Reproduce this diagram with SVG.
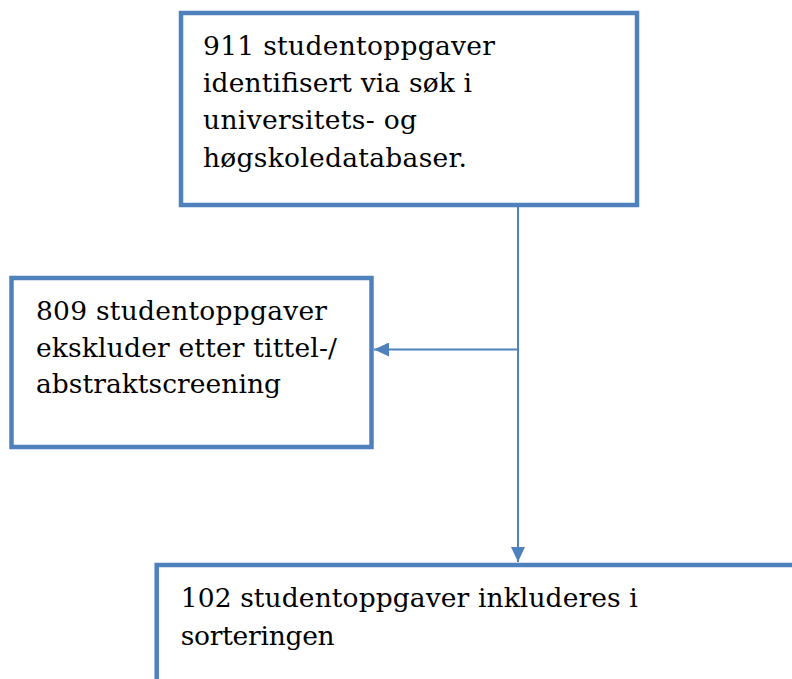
<svg xmlns="http://www.w3.org/2000/svg" width="792" height="679" viewBox="0 0 792 679">
  <defs>
    <style>
      .box { fill: #FFFFFF; stroke: #4F81BD; stroke-width: 4.5; }
      .conn { fill: none; stroke: #4F81BD; stroke-width: 2; }
      .lbl { font-family: "DejaVu Serif", "Liberation Serif", serif; font-size: 26.5px; fill: #000000; }
    </style>
    <marker id="arrow" viewBox="0 0 15 14" refX="15" refY="7" markerWidth="15" markerHeight="14" markerUnits="userSpaceOnUse" orient="auto">
      <path d="M0,0 L15,7 L0,14 z" fill="#4F81BD"/>
    </marker>
  </defs>
  <rect x="0" y="0" width="792" height="679" fill="#FFFFFF"/>

  <g id="connectors">
    <line class="conn" x1="518" y1="207" x2="518" y2="562" marker-end="url(#arrow)"/>
    <line class="conn" x1="518" y1="349.5" x2="374" y2="349.5" marker-end="url(#arrow)"/>
  </g>

  <g id="node-identified">
    <rect class="box" x="181" y="13" width="456" height="192"/>
    <text class="lbl" x="203" y="55" textLength="292">911 studentoppgaver</text>
    <text class="lbl" x="203" y="92.2" textLength="269">identifisert via søk i</text>
    <text class="lbl" x="203" y="129.4" textLength="214">universitets- og</text>
    <text class="lbl" x="203" y="166.6" textLength="264">høgskoledatabaser.</text>
  </g>

  <g id="node-excluded">
    <rect class="box" x="11.5" y="278" width="360" height="169"/>
    <text class="lbl" x="36" y="320" textLength="291">809 studentoppgaver</text>
    <text class="lbl" x="36" y="356.7" textLength="301">ekskluder etter tittel-/</text>
    <text class="lbl" x="36" y="393.4" textLength="245">abstraktscreening</text>
  </g>

  <g id="node-included">
    <rect class="box" x="156.7" y="565" width="700" height="200"/>
    <text class="lbl" x="180.7" y="606.7" textLength="457">102 studentoppgaver inkluderes i</text>
    <text class="lbl" x="180.7" y="645" textLength="154">sorteringen</text>
  </g>
</svg>
